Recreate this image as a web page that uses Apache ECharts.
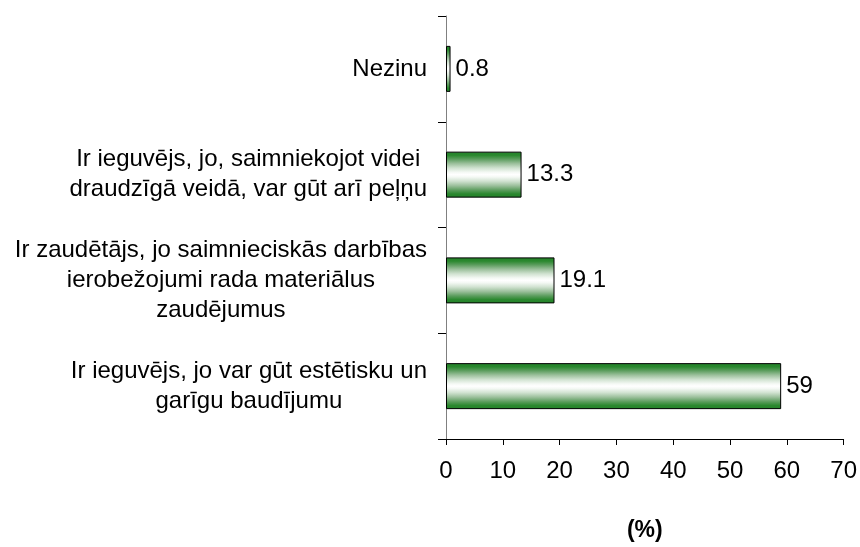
<!DOCTYPE html>
<html>
<head>
<meta charset="utf-8">
<script src="https://cdn.jsdelivr.net/npm/echarts@6/dist/echarts.min.js"></script>
<style>
    html, body { margin: 0; padding: 0; background: #ffffff; }
    #chart { width: 860px; height: 547px; }
</style>
</head>
<body>
<div id="chart"></div>
<script>
// categories from bottom to top
const categories = [
    "Ir ieguvējs, jo var gūt estētisku un\ngarīgu baudījumu",
    "Ir zaudētājs, jo saimnieciskās darbības\nierobežojumi rada materiālus\nzaudējumus",
    "Ir ieguvējs, jo, saimniekojot videi\ndraudzīgā veidā, var gūt arī peļņu",
    "Nezinu",
];
const values = [59, 19.1, 13.3, 0.8];
const xTicks = [0, 10, 20, 30, 40, 50, 60, 70];
const axisName = "(%)";

const font = "'Liberation Sans', Arial, sans-serif";
const chart = echarts.init(document.getElementById("chart"));

const barFill = new echarts.graphic.LinearGradient(0, 0, 0, 1, [
    { offset: 0, color: "#24822a" },
    { offset: 0.08, color: "#2a882e" },
    { offset: 0.16, color: "#5a9c5c" },
    { offset: 0.26, color: "#9cc09c" },
    { offset: 0.36, color: "#d2e3d2" },
    { offset: 0.45, color: "#f5f9f5" },
    { offset: 0.5, color: "#ffffff" },
    { offset: 0.55, color: "#f5f9f5" },
    { offset: 0.64, color: "#d2e3d2" },
    { offset: 0.74, color: "#9cc09c" },
    { offset: 0.84, color: "#5a9c5c" },
    { offset: 0.92, color: "#2a882e" },
    { offset: 1, color: "#24822a" },
]);

chart.setOption({
    animation: false,
    textStyle: { fontFamily: font },
    grid: { left: 446, right: 14, top: 16, bottom: 89, containLabel: false },
    xAxis: {
        type: "value",
        min: xTicks[0],
        max: xTicks[xTicks.length - 1],
        interval: 10,
        name: axisName,
        nameLocation: "middle",
        nameGap: 80,
        nameTextStyle: { fontSize: 23, fontWeight: "bold", color: "#000", fontFamily: font },
        axisLine: { show: true, lineStyle: { color: "#000", width: 1 } },
        axisTick: { show: true, length: 6, lineStyle: { color: "#000" } },
        axisLabel: { fontSize: 24, color: "#000", margin: 20, fontFamily: font },
        splitLine: { show: false },
    },
    yAxis: {
        type: "category",
        data: categories,
        axisLine: { show: true, lineStyle: { color: "#808080", width: 1 } },
        axisTick: { show: true, length: 8, lineStyle: { color: "#000" } },
        axisLabel: {
            margin: 19,
            color: "#000",
            fontSize: 24,
            lineHeight: 30,
            fontFamily: font,
            formatter: (v) => v.split("\n").map((l) => "{c|" + l + "}").join("\n"),
            rich: {
                c: { align: "center", fontSize: 24, lineHeight: 30, fontFamily: font, color: "#000" },
            },
        },
    },
    series: [
        {
            type: "bar",
            data: values,
            barWidth: 46,
            itemStyle: { color: barFill, borderColor: "#000", borderWidth: 1 },
            label: {
                show: true,
                position: "right",
                distance: 5,
                fontSize: 24,
                color: "#000",
                fontFamily: font,
            },
        },
    ],
});
</script>
</body>
</html>
